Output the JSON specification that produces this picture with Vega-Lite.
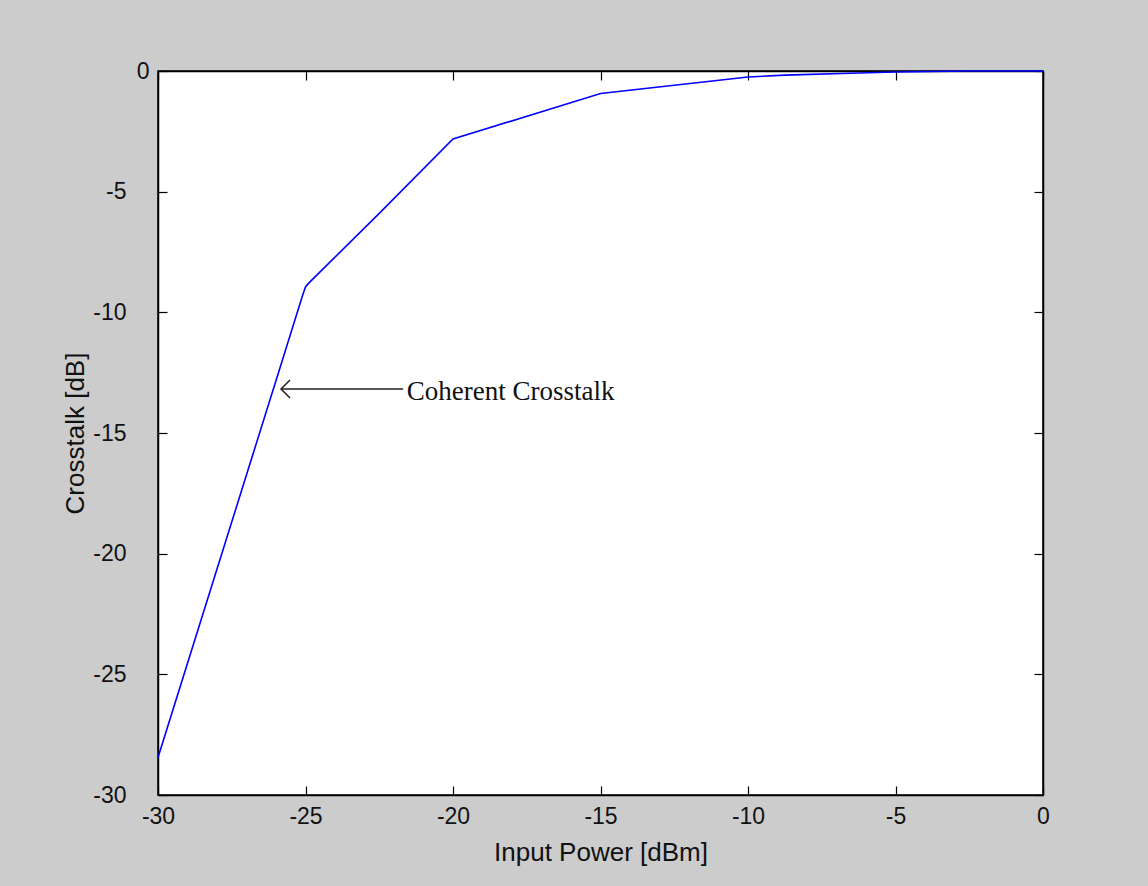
{
  "$schema": "https://vega.github.io/schema/vega-lite/v6.json",
  "width": 885,
  "height": 724,
  "autosize": {"type": "none"},
  "padding": {"left": 158, "top": 71, "right": 105, "bottom": 91},
  "background": "#cccccc",
  "config": {
    "view": {"fill": "#ffffff", "stroke": "#000000", "strokeWidth": 1.5},
    "axis": {
      "grid": false,
      "domainColor": "#000000",
      "domainWidth": 1.5,
      "tickColor": "#000000",
      "tickWidth": 1.2,
      "tickSize": -9,
      "labelFlush": false,
      "labelFont": "Liberation Sans",
      "labelFontSize": 23,
      "labelColor": "#111111",
      "labelExpr": "replace(datum.label, '\u2212', '-')",
      "titleFont": "Liberation Sans",
      "titleFontSize": 26,
      "titleFontWeight": "normal",
      "titleColor": "#111111"
    }
  },
  "datasets": {
    "curve": [
      {"power": -30, "crosstalk": -28.45},
      {"power": -25.75, "crosstalk": -11.85},
      {"power": -25.1, "crosstalk": -9.3},
      {"power": -25, "crosstalk": -8.95},
      {"power": -24.9, "crosstalk": -8.8},
      {"power": -22.5, "crosstalk": -5.9},
      {"power": -20, "crosstalk": -2.82},
      {"power": -15, "crosstalk": -0.93},
      {"power": -10, "crosstalk": -0.25},
      {"power": -8.75, "crosstalk": -0.17},
      {"power": -6.25, "crosstalk": -0.08},
      {"power": -5, "crosstalk": -0.04},
      {"power": -2.5, "crosstalk": 0},
      {"power": 0, "crosstalk": 0}
    ],
    "arrow": [
      {"start": -25.83, "end": -21.69, "level": -13.18}
    ],
    "label": [
      {"power": -21.57, "crosstalk": -13.3, "text": "Coherent Crosstalk"}
    ]
  },
  "resolve": {"axis": {"x": "independent", "y": "independent"}},
  "layer": [
    {
      "data": {"name": "curve"},
      "mark": {"type": "line", "color": "#0000ff", "strokeWidth": 1.6, "clip": false},
      "encoding": {
        "x": {
          "field": "power", "type": "quantitative",
          "scale": {"domain": [-30, 0], "nice": false, "zero": false},
          "axis": {"orient": "bottom", "values": [-30, -25, -20, -15, -10, -5, 0], "title": "Input Power [dBm]", "labelPadding": 19, "titlePadding": 11}
        },
        "y": {
          "field": "crosstalk", "type": "quantitative",
          "scale": {"domain": [-30, 0], "nice": false, "zero": false},
          "axis": {
            "orient": "left", "values": [-30, -25, -20, -15, -10, -5, 0], "title": "Crosstalk [dB]",
            "labelPadding": {"condition": {"test": "datum.value === 0", "value": 18}, "value": 41},
            "titlePadding": 4
          }
        }
      }
    },
    {
      "data": {"name": "curve"},
      "mark": {"type": "line", "opacity": 0},
      "encoding": {
        "x": {
          "field": "power", "type": "quantitative",
          "axis": {"orient": "top", "values": [-30, -25, -20, -15, -10, -5, 0], "labels": false, "title": null}
        },
        "y": {
          "field": "crosstalk", "type": "quantitative",
          "axis": {"orient": "right", "values": [-30, -25, -20, -15, -10, -5, 0], "labels": false, "title": null}
        }
      }
    },
    {
      "data": {"name": "arrow"},
      "mark": {"type": "rule", "color": "#222222", "strokeWidth": 1.5},
      "encoding": {
        "x": {"field": "start", "type": "quantitative", "axis": null},
        "x2": {"field": "end"},
        "y": {"field": "level", "type": "quantitative", "axis": null}
      }
    },
    {
      "data": {"name": "arrow"},
      "mark": {"type": "point", "shape": "M 1 -1 L 0 0 L 1 1", "filled": false, "stroke": "#222222", "strokeWidth": 1.5, "size": 324, "opacity": 1},
      "encoding": {
        "x": {"field": "start", "type": "quantitative", "axis": null},
        "y": {"field": "level", "type": "quantitative", "axis": null}
      }
    },
    {
      "data": {"name": "label"},
      "mark": {"type": "text", "font": "Liberation Serif", "fontSize": 27, "align": "left", "baseline": "middle", "color": "#111111"},
      "encoding": {
        "x": {"field": "power", "type": "quantitative", "axis": null},
        "y": {"field": "crosstalk", "type": "quantitative", "axis": null},
        "text": {"field": "text"}
      }
    }
  ]
}
